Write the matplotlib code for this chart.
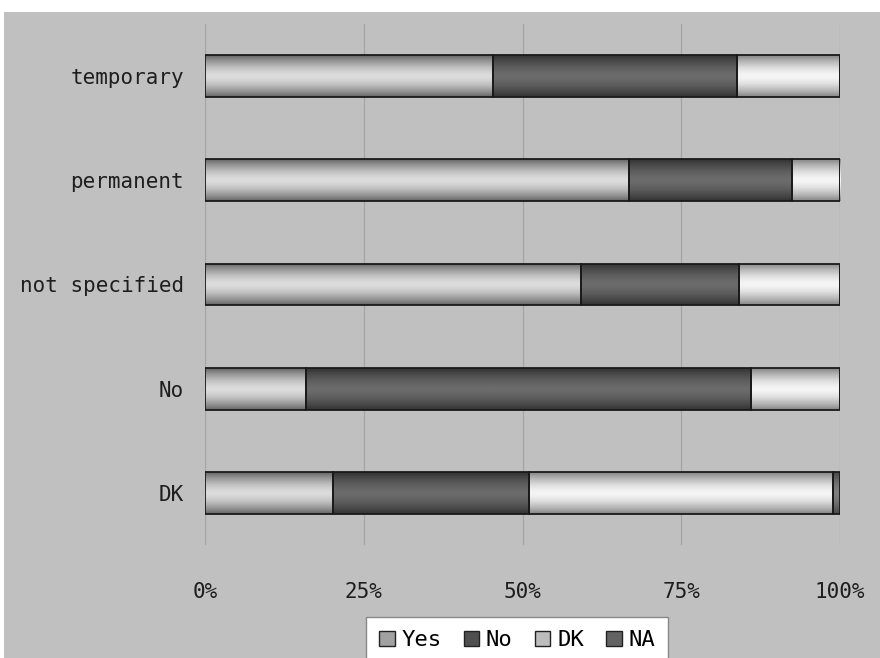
import numpy as np
import matplotlib.pyplot as plt
from matplotlib.patches import Rectangle

categories = ['temporary', 'permanent', 'not specified', 'No', 'DK']
yes = [45.4, 66.8, 59.2, 15.9, 20.2]
no = [38.4, 25.6, 24.9, 70.1, 30.8]
dk = [16.2, 7.6, 15.9, 14.0, 47.9]
na = [0.0, 0.0, 0.0, 0.0, 1.1]
series = ['Yes', 'No', 'DK', 'NA']

# (edge shade, centre shade) for the shaded bar fill
shades = {'Yes': (0.40, 0.86), 'No': (0.20, 0.42), 'DK': (0.52, 0.96), 'NA': (0.28, 0.50)}
bg = '#c0c0c0'

fig = plt.figure(figsize=(8.8, 6.58), dpi=100)
fig.patch.set_facecolor('white')
fig.add_artist(Rectangle((4/880, 0), 1, 1 - 12/658, transform=fig.transFigure,
                         facecolor=bg, edgecolor='none', zorder=0))
ax = fig.add_axes([205/880, 1 - 545/658, 635/880, 521/658])
ax.set_facecolor(bg)

y = np.arange(len(categories))
data = {'Yes': yes, 'No': no, 'DK': dk, 'NA': na}
left = np.zeros(len(categories))

t = np.linspace(-1, 1, 64)
profile = 1 - np.abs(t) ** 1.6

for s in series:
    vals = np.array(data[s])
    bars = ax.barh(y, vals, left=left, height=0.40, facecolor='none',
                   edgecolor='#1a1a1a', linewidth=1.3, zorder=3)
    lo, hi = shades[s]
    grad = (lo + (hi - lo) * profile).reshape(-1, 1)
    for b in bars:
        if b.get_width() <= 0:
            continue
        im = ax.imshow(grad, cmap='gray', vmin=0, vmax=1, aspect='auto',
                       extent=(b.get_x(), b.get_x() + b.get_width(),
                               b.get_y(), b.get_y() + b.get_height()),
                       zorder=2, interpolation='bilinear')
        im.set_clip_path(b)
    left += vals

ax.set_xlim(0, 100)
ax.set_ylim(len(categories) - 0.5, -0.5)
ax.set_xticks([0, 25, 50, 75, 100])
ax.set_xticklabels(['0%', '25%', '50%', '75%', '100%'])
ax.set_yticks(y)
ax.set_yticklabels(categories)
ax.xaxis.grid(True, color='#a4a4a4', linewidth=0.9, zorder=1)
ax.set_axisbelow(True)
for sp in ax.spines.values():
    sp.set_visible(False)
ax.tick_params(axis='both', length=0, colors='#1e1e1e')
ax.tick_params(axis='x', pad=27, labelsize=15)
ax.tick_params(axis='y', pad=15, labelsize=15)
for lab in ax.get_xticklabels() + ax.get_yticklabels():
    lab.set_family('DejaVu Sans Mono')

handles = [Rectangle((0, 0), 1, 1, facecolor=plt.cm.gray((shades[s][0] + shades[s][1]) / 2),
                     edgecolor='#222222', linewidth=1) for s in series]
leg = fig.legend(handles, series, loc='upper center', ncol=4,
                 bbox_to_anchor=(517/880, 1 - 617/658), frameon=True, fancybox=False,
                 handlelength=0.7, handleheight=0.7, handletextpad=0.3, columnspacing=1.0,
                 borderpad=0.6, borderaxespad=0.0, framealpha=1.0,
                 prop={'family': 'DejaVu Sans Mono', 'size': 16})
leg.get_frame().set_edgecolor('#888888')
leg.get_frame().set_facecolor('white')

fig.savefig('out.png', dpi=100, facecolor=fig.get_facecolor())
